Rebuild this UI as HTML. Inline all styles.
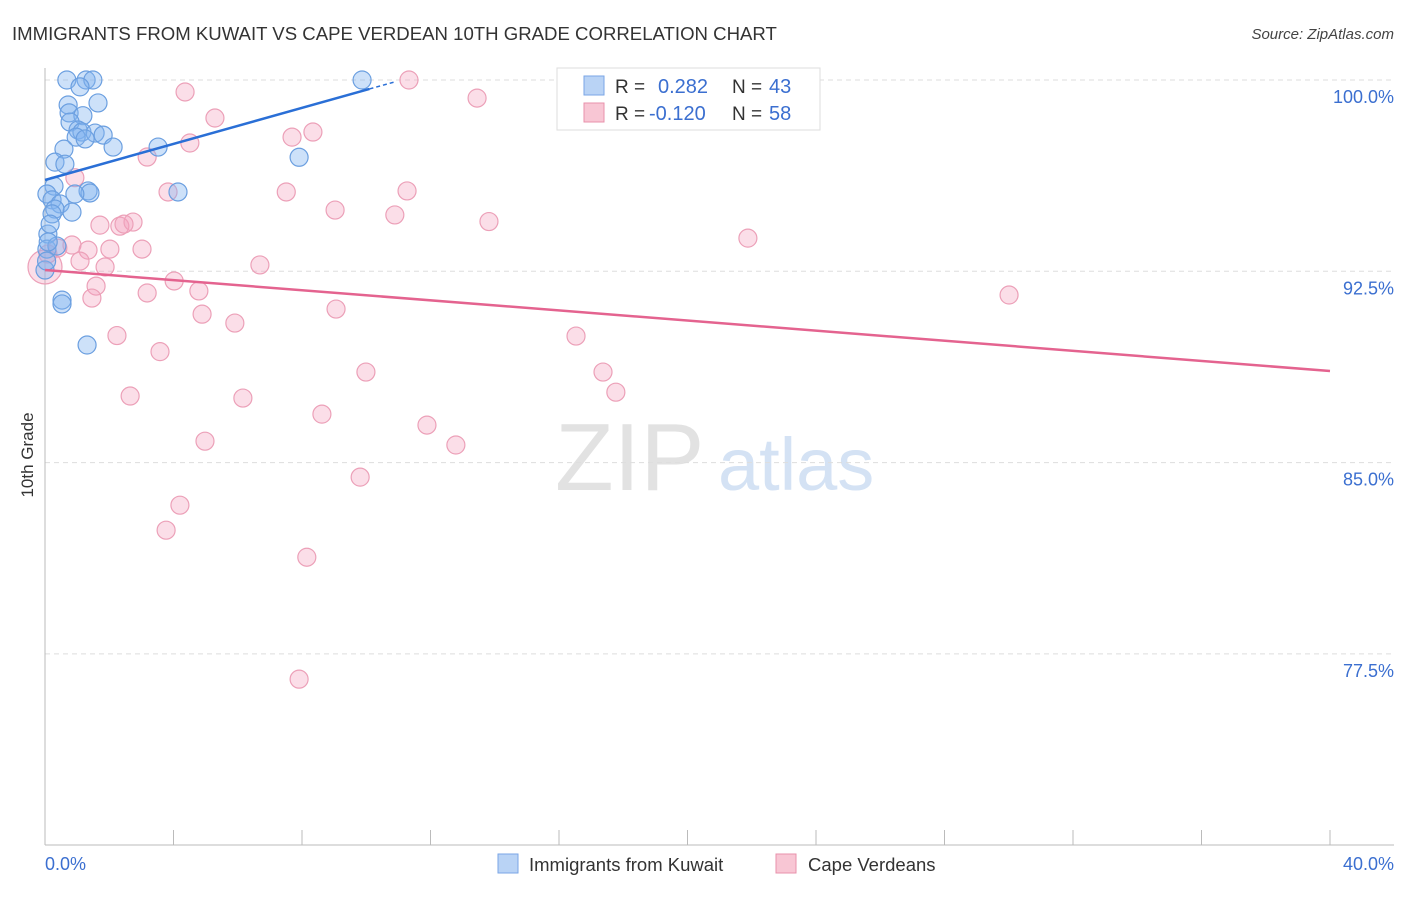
<!DOCTYPE html>
<html><head><meta charset="utf-8"><style>
body{margin:0;background:#fff;font-family:"Liberation Sans",sans-serif}
svg text{font-family:"Liberation Sans",sans-serif}
</style></head><body>
<svg width="1406" height="892" xmlns="http://www.w3.org/2000/svg" id="chart">
<text x="12" y="40" font-size="18.6" fill="#333">IMMIGRANTS FROM KUWAIT VS CAPE VERDEAN 10TH GRADE CORRELATION CHART</text>
<text x="1394" y="39" font-size="15" fill="#444" text-anchor="end" font-style="italic">Source: ZipAtlas.com</text>
<text x="555" y="490" font-size="96" fill="#e2e2e2" font-family="Liberation Serif">ZIP</text>
<text x="718" y="490" font-size="74" fill="#d4e2f4">atlas</text>
<g id="grid"></g><g id="axes"></g><g id="pts"></g><g id="lines"></g>
<text transform="translate(33,455) rotate(-90)" font-size="17" fill="#333" text-anchor="middle">10th Grade</text>
<text x="45" y="870" font-size="18" fill="#3b6fd0">0.0%</text>
<text x="1394" y="870" font-size="18" fill="#3b6fd0" text-anchor="end">40.0%</text>
<g>
<rect x="557" y="68" width="263" height="62" fill="#fff" stroke="#ddd"/>
<rect x="584" y="76" width="20" height="19" fill="#b9d3f5" stroke="#7aa6e6"/>
<rect x="584" y="103" width="20" height="19" fill="#f8c6d4" stroke="#e891ab"/>
<text x="615" y="93" font-size="19" fill="#333">R =</text><text x="658" y="93" font-size="20" fill="#3b6fd0">0.282</text>
<text x="732" y="93" font-size="19" fill="#333">N =</text><text x="769" y="93" font-size="20" fill="#3b6fd0">43</text>
<text x="615" y="120" font-size="19" fill="#333">R =</text><text x="649" y="120" font-size="20" fill="#3b6fd0">-0.120</text>
<text x="732" y="120" font-size="19" fill="#333">N =</text><text x="769" y="120" font-size="20" fill="#3b6fd0">58</text>
</g>
<g>
<rect x="498" y="854" width="20" height="19" fill="#b9d3f5" stroke="#7aa6e6"/>
<text x="529" y="871" font-size="18.5" fill="#333">Immigrants from Kuwait</text>
<rect x="776" y="854" width="20" height="19" fill="#f8c6d4" stroke="#e891ab"/>
<text x="808" y="871" font-size="18.5" fill="#333">Cape Verdeans</text>
</g>
</svg>
<script>
const yTicks=[100,92.5,85,77.5];
const yTickLabels=["100.0%","92.5%","85.0%","77.5%"];
const blueX=[0.68,1.28,1.49,1.09,9.87,0.72,1.65,0.75,1.18,0.78,1.03,1.15,1.56,0.97,1.25,1.81,2.12,0.59,3.52,0.31,0.62,7.91,0.28,0.06,0.22,1.34,1.4,4.14,0.47,0.84,0.31,0.09,0.06,0.37,0.53,0.53,1.31,0,0.22,0.93,0.16,0.1,0.05];
const blueY=[100,100,100,99.73,100,99.02,99.1,98.71,98.6,98.35,98.04,97.96,97.92,97.76,97.69,97.84,97.37,97.29,97.37,96.78,96.7,96.97,95.84,95.53,95.3,95.65,95.57,95.61,95.14,94.82,94.94,93.96,93.37,93.49,91.37,91.22,89.61,92.55,94.75,95.53,94.35,93.65,92.9];
const pinkX=[4.36,11.33,13.45,5.29,7.69,8.34,4.51,3.18,0.93,3.83,7.51,9.03,10.89,11.27,13.82,21.88,1.71,2.33,2.74,2.46,0.84,1.34,2.02,3.02,0.4,1.09,1.87,6.69,4.02,4.79,1.59,3.18,1.46,30.01,4.89,5.91,9.06,2.24,3.58,16.53,9.99,17.37,17.77,2.65,6.16,8.62,11.89,4.98,12.79,9.81,4.2,3.77,8.15,7.91,0,0.09];
const pinkY=[99.53,100,99.29,98.51,97.76,97.96,97.53,96.98,96.17,95.61,95.61,94.9,94.71,95.65,94.45,93.8,94.31,94.27,94.43,94.35,93.53,93.33,93.37,93.37,93.41,92.9,92.67,92.75,92.12,91.73,91.92,91.65,91.45,91.57,90.82,90.47,91.02,89.98,89.35,89.96,88.55,88.55,87.76,87.61,87.53,86.9,86.47,85.84,85.69,84.43,83.33,82.35,81.29,76.51,92.67,93.18];
const blueTrendX=[0,10.1],blueTrendY=[96.08,99.65];
const pinkTrendX=[0,40],pinkTrendY=[92.55,88.59];
const NS="http://www.w3.org/2000/svg";
const sx=v=>45+v/40*1285, sy=v=>80+(100-v)/7.5*191.3;
function mk(tag,attrs,parent){const e=document.createElementNS(NS,tag);for(const k in attrs)e.setAttribute(k,attrs[k]);document.getElementById(parent).appendChild(e);return e;}
yTicks.forEach((t,i)=>{
 const g=mk('line',{x1:45,x2:1394,y1:sy(t),y2:sy(t),stroke:'#ddd','stroke-dasharray':'5,4'},'grid');
 
 
 const tx=mk('text',{x:1394,y:sy(t)+23,'font-size':18,fill:'#3b6fd0','text-anchor':'end'},'grid');
 tx.textContent=yTickLabels[i];
 
 
});
const ax=mk('line',{x1:45,x2:45,y1:68,y2:845,stroke:'#bbb'},'axes');


const bx=mk('line',{x1:45,x2:1394,y1:845,y2:845,stroke:'#bbb'},'axes');


for(let i=0;i<=10;i++){const t=mk('line',{x1:sx(i*4),x2:sx(i*4),y1:830,y2:845,stroke:'#bbb'},'axes');
 
 }
pinkX.forEach((x,i)=>{const c=mk('circle',{cx:sx(x),cy:sy(pinkY[i]),r:i==54?17:9,fill:'rgba(244,160,188,0.35)',stroke:'#eca0b8','stroke-width':1.2},'pts');
 
 });
blueX.forEach((x,i)=>{const c=mk('circle',{cx:sx(x),cy:sy(blueY[i]),r:9,fill:'rgba(130,180,240,0.4)',stroke:'#6b9fe0','stroke-width':1.2},'pts');
 
 });
const bl=mk('line',{x1:sx(blueTrendX[0]),y1:sy(blueTrendY[0]),x2:sx(blueTrendX[1]),y2:sy(blueTrendY[1]),stroke:'#2a6fd6','stroke-width':2.5},'lines');


const bd=mk('line',{x1:sx(blueTrendX[1]),y1:sy(blueTrendY[1]),x2:sx(10.9),y2:sy(blueTrendY[1]+0.28),stroke:'#2a6fd6','stroke-width':1.5,'stroke-dasharray':'4,3'},'lines');


const pl=mk('line',{x1:sx(pinkTrendX[0]),y1:sy(pinkTrendY[0]),x2:sx(pinkTrendX[1]),y2:sy(pinkTrendY[1]),stroke:'#e4638f','stroke-width':2.5},'lines');


</script>
</body></html>
